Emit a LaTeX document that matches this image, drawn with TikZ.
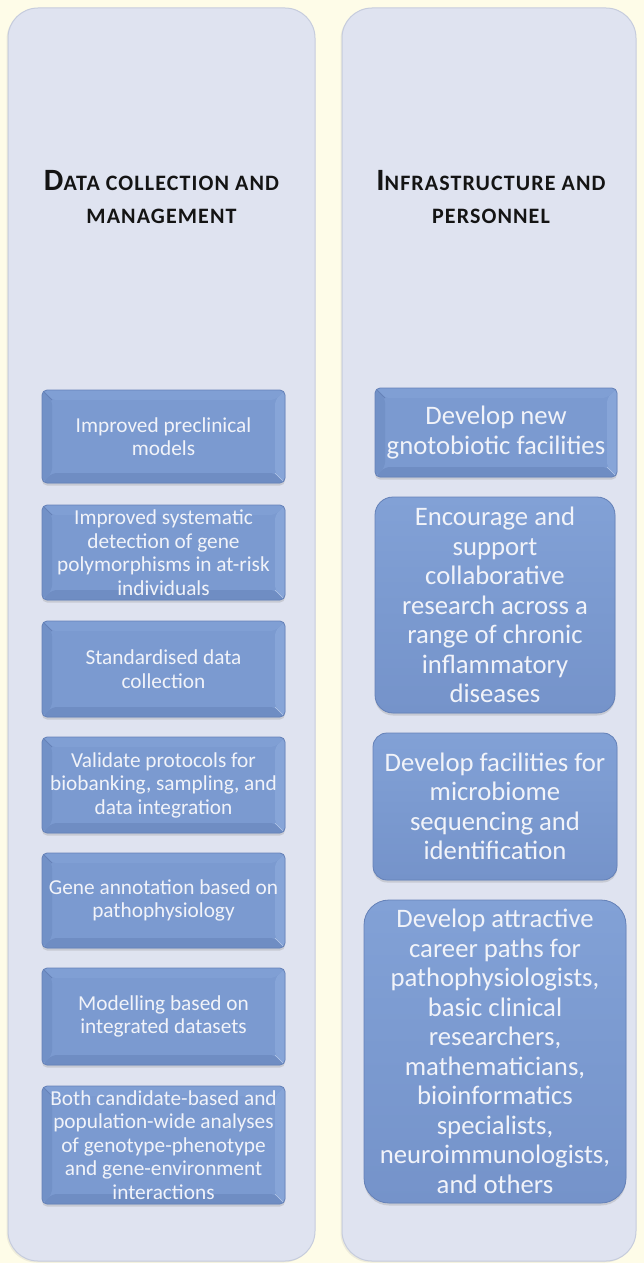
\documentclass[tikz,border=0pt]{standalone}
\usepackage{fontspec}
\setmainfont{Carlito}
\usetikzlibrary{shadows}
\definecolor{bgcream}{HTML}{FEFCE8}
\definecolor{colfill}{HTML}{DFE3F0}
\definecolor{coledge}{HTML}{C6CCDD}
\definecolor{boxblue}{HTML}{7B9AD0}
\definecolor{boxedge}{HTML}{6682B8}
\definecolor{bevdark}{HTML}{7291C7}
\definecolor{bevdarker}{HTML}{6F8DC3}
\definecolor{bevlight}{HTML}{809FD4}
\definecolor{bevlighter}{HTML}{87A5D8}
\definecolor{roundtop}{HTML}{82A1D6}
\definecolor{roundbot}{HTML}{7593CA}
\definecolor{boxtext}{HTML}{F1F3F9}
\definecolor{hdrtext}{HTML}{141414}
\tikzset{
  column/.style={fill=colfill, draw=coledge, line width=1pt, rounded corners=30pt,
    drop shadow={shadow xshift=-1.5pt, shadow yshift=-1.5pt, opacity=0.12}},
  header/.style={inner sep=0pt, align=center, text=hdrtext,
    font=\bfseries\fontsize{31}{33}\selectfont\addfontfeatures{LetterSpace=5}},
  bevelled/.style={path picture={
    \fill[bevdark] (path picture bounding box.north west)
      -- ([xshift=10pt,yshift=-10pt]path picture bounding box.north west)
      -- ([xshift=10pt,yshift=10pt]path picture bounding box.south west)
      -- (path picture bounding box.south west) -- cycle;
    \fill[bevdarker] (path picture bounding box.south west)
      -- ([xshift=10pt,yshift=10pt]path picture bounding box.south west)
      -- ([xshift=-10pt,yshift=10pt]path picture bounding box.south east)
      -- (path picture bounding box.south east) -- cycle;
    \fill[bevlighter] (path picture bounding box.south east)
      -- ([xshift=-10pt,yshift=10pt]path picture bounding box.south east)
      -- ([xshift=-10pt,yshift=-10pt]path picture bounding box.north east)
      -- (path picture bounding box.north east) -- cycle;
    \fill[bevlight] (path picture bounding box.north east)
      -- ([xshift=-10pt,yshift=-10pt]path picture bounding box.north east)
      -- ([xshift=10pt,yshift=-10pt]path picture bounding box.north west)
      -- (path picture bounding box.north west) -- cycle;
    \draw[boxedge, line width=0.8pt] (path picture bounding box.north west)
      -- ([xshift=10pt,yshift=-10pt]path picture bounding box.north west);
    \draw[bevlighter!60!white, line width=0.6pt] (path picture bounding box.south east)
      -- ([xshift=-10pt,yshift=10pt]path picture bounding box.south east);
  }},
  basebox/.style={fill=boxblue, draw=boxedge, line width=0.8pt, inner sep=0pt,
    align=center, text=boxtext,
    drop shadow={shadow xshift=0pt, shadow yshift=-2.5pt, opacity=0.25}},
  lbox/.style={basebox, bevelled, rounded corners=5pt, minimum width=243pt,
    font=\fontsize{21.3}{23.5}\selectfont},
  rflat/.style={basebox, bevelled, rounded corners=5pt,
    font=\fontsize{26.7}{29.5}\selectfont},
  rround/.style={basebox, top color=roundtop, bottom color=roundbot, middle color=boxblue,
    font=\fontsize{26.7}{29.5}\selectfont},
}
\begin{document}
\begin{tikzpicture}[x=1pt, y=-1pt]
\useasboundingbox (0,0) rectangle (644,1263);
\fill[bgcream] (0,0) rectangle (644,1263);

% columns
\path[column] (8,8) rectangle (315,1261);
\path[column] (342,8) rectangle (636,1261);

% headers
\node[header] (hleft) at (161.5,197)
  {D{\fontsize{22}{33}\selectfont ATA COLLECTION AND}\\{\fontsize{22}{33}\selectfont MANAGEMENT}};
\node[header] (hright) at (491,197)
  {I{\fontsize{22}{33}\selectfont NFRASTRUCTURE AND}\\{\fontsize{22}{33}\selectfont PERSONNEL}};

% left boxes
\node[lbox, minimum height=93pt] (l1) at (163.5,436.5) {Improved preclinical\\models};
\node[lbox, minimum height=95pt] (l2) at (163.5,552.5) {Improved systematic\\detection of gene\\polymorphisms in at-risk\\individuals};
\node[lbox, minimum height=96pt] (l3) at (163.5,669) {Standardised data\\collection};
\node[lbox, minimum height=96pt] (l4) at (163.5,785) {Validate protocols for\\biobanking, sampling, and\\data integration};
\node[lbox, minimum height=95pt] (l5) at (163.5,900.5) {Gene annotation based on\\pathophysiology};
\node[lbox, minimum height=97pt] (l6) at (163.5,1016.5) {Modelling based on\\integrated datasets};
\node[lbox, minimum height=118pt] (l7) at (163.5,1145) {Both candidate-based and\\population-wide analyses\\of genotype-phenotype\\and gene-environment\\interactions};

% right boxes
\node[rflat, minimum width=242pt, minimum height=89pt] (r1) at (496,432.5) {Develop new\\gnotobiotic facilities};
\node[rround, rounded corners=18pt, minimum width=240pt, minimum height=216pt] (r2) at (495,605) {Encourage and\\support\\collaborative\\research across a\\range of chronic\\inflammatory\\diseases};
\node[rround, rounded corners=14pt, minimum width=244pt, minimum height=147pt] (r3) at (495,806.5) {Develop facilities for\\microbiome\\sequencing and\\identification};
\node[rround, rounded corners=25pt, minimum width=262pt, minimum height=303pt] (r4) at (495,1051.5) {Develop attractive\\career paths for\\pathophysiologists,\\basic clinical\\researchers,\\mathematicians,\\bioinformatics\\specialists,\\neuroimmunologists,\\and others};
\end{tikzpicture}
\end{document}
